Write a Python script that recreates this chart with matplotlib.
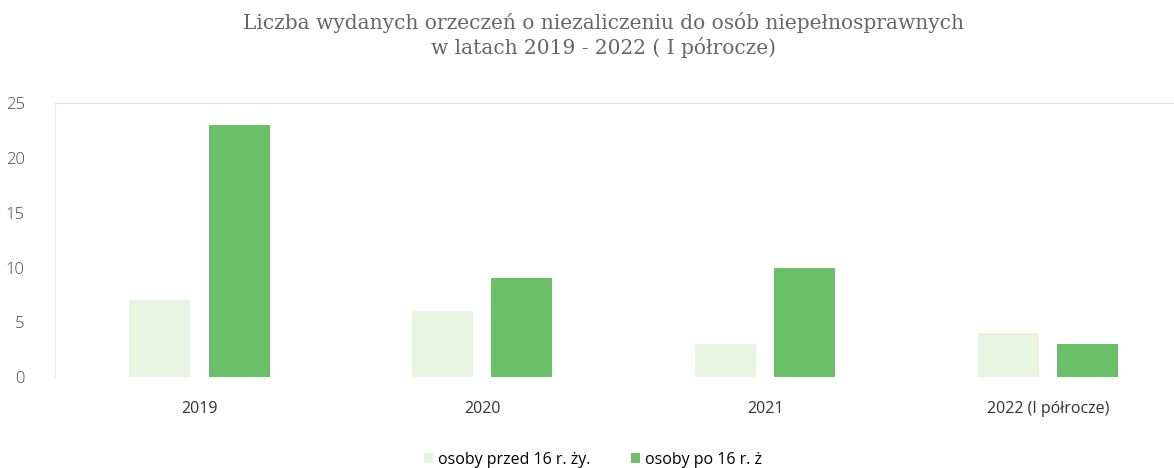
import matplotlib.pyplot as plt
import numpy as np

# data
categories = ['2019', '2020', '2021', '2022 (I półrocze)']
przed_16 = [7, 6, 3, 4]
po_16 = [23, 9, 10, 3]
labels = ['osoby przed 16 r. ży.', 'osoby po 16 r. ż']

fig = plt.figure(figsize=(11.74, 4.68), dpi=100)
ax = fig.add_axes([0.047, 0.194, 0.953, 0.586])

x = np.arange(len(categories))
w = 0.216
ax.bar(x - 0.14, przed_16, w, color='#e6f4e0', label=labels[0])
ax.bar(x + 0.14, po_16, w, color='#6bbf68', label=labels[1])

ax.set_xlim(-0.51, 3.445)
ax.set_ylim(0, 25)
ax.set_yticks([0, 5, 10, 15, 20, 25])
ax.set_xticks(x)
ax.set_xticklabels(categories, fontsize=11.5, color='#333333', family='Open Sans')
ax.tick_params(axis='y', labelsize=12, colors='#444444', length=0, pad=22)
ax.tick_params(axis='x', length=0, pad=17)
for t in ax.get_yticklabels():
    t.set_family('Open Sans')
    t.set_fontweight('light')

for s in ['right', 'bottom']:
    ax.spines[s].set_visible(False)
ax.spines['top'].set_color('#e0e0e0')
ax.spines['top'].set_linestyle((0, (2, 1)))
ax.spines['left'].set_color('#e8e8e0')

fig.text(0.514, 0.926, 'Liczba wydanych orzeczeń o niezaliczeniu do osób niepełnosprawnych\nw latach 2019 - 2022 ( I półrocze)',
         ha='center', va='center', fontsize=14.5, color='#666666', family='DejaVu Serif',
         linespacing=1.25)

fig.legend(loc='lower center', bbox_to_anchor=(0.505, -0.03), ncol=2, frameon=False,
           handlelength=0.6, handleheight=0.6, handletextpad=0.3, columnspacing=2.5,
           prop={'family': 'Open Sans', 'size': 11.5})

plt.savefig('out.png', dpi=100)
plt.close()
